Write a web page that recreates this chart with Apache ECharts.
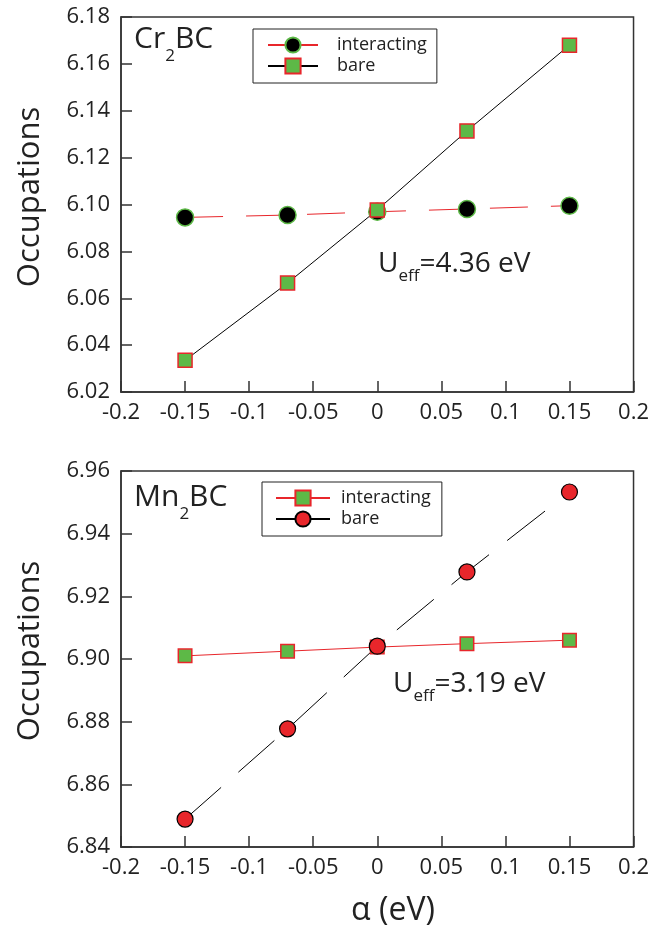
<!DOCTYPE html>
<html>
<head>
<meta charset="utf-8">
<script src="https://cdn.jsdelivr.net/npm/echarts@6/dist/echarts.min.js"></script>
<style>
  html, body { margin: 0; padding: 0; background: #fff; }
  #chart { width: 652px; height: 933px; }
</style>
</head>
<body>
<div id="chart"></div>
<script>
// alpha values (eV)
const alphaValues = [-0.15, -0.07, 0, 0.07, 0.15];
// Cr2BC occupations
const crInteracting = [6.0945, 6.0955, 6.0969, 6.0981, 6.0995];
const crBare = [6.0335, 6.0665, 6.0977, 6.1314, 6.168];
// Mn2BC occupations
const mnInteracting = [6.901, 6.9025, 6.9038, 6.9049, 6.906];
const mnBare = [6.8489, 6.8777, 6.9041, 6.9278, 6.9533];
// axis ranges
const xRange = [-0.2, 0.2, 0.05];
const crRange = [6.02, 6.18, 0.02];
const mnRange = [6.84, 6.96, 0.02];

const RED = "#e8262b";
const GREEN = "#5db947";
const FONT = "Open Sans";
const TXT = "#222";

const chart = echarts.init(document.getElementById("chart"));

const pairs = (ys) => alphaValues.map((x, i) => [x, ys[i]]);

// measure text so subscripts can be placed next to the main text
const measureCtx = document.createElement("canvas").getContext("2d");
function textWidth(str, size) {
    measureCtx.font = size + 'px "' + FONT + '"';
    return measureCtx.measureText(str).width;
}
// text with a subscript: main + sub + rest, y is the centre of the main text
function subText(x, y, main, sub, rest, size, subSize, drop) {
    const w1 = textWidth(main, size);
    const w2 = textWidth(sub, subSize);
    const base = { fontFamily: FONT, fill: TXT, align: "left", verticalAlign: "middle" };
    return [
        { type: "text", x: x, y: y, style: Object.assign({ text: main, fontSize: size }, base) },
        { type: "text", x: x + w1, y: y + drop, style: Object.assign({ text: sub, fontSize: subSize }, base) },
        { type: "text", x: x + w1 + w2, y: y, style: Object.assign({ text: rest, fontSize: size }, base) },
    ];
}

function xAxisFor(gridIndex) {
    return {
        type: "value", gridIndex,
        min: xRange[0], max: xRange[1], interval: xRange[2],
        axisLine: { show: true, onZero: false, lineStyle: { color: "#333", width: 1.5 } },
        axisTick: { show: true, inside: true, length: 11, lineStyle: { color: "#333", width: 1.5 } },
        axisLabel: { show: true, margin: 10, color: TXT, fontFamily: FONT, fontSize: 22, showMinLabel: true, showMaxLabel: true },
        splitLine: { show: false },
    };
}
function yAxisFor(gridIndex, range) {
    return {
        type: "value", gridIndex,
        min: range[0], max: range[1], interval: range[2],
        axisLine: { show: true, onZero: false, lineStyle: { color: "#333", width: 1.5 } },
        axisTick: { show: true, inside: true, length: 11, lineStyle: { color: "#333", width: 1.5 } },
        axisLabel: { show: true, margin: 11, color: TXT, fontFamily: FONT, fontSize: 22, formatter: (v) => v.toFixed(2) },
        splitLine: { show: false },
    };
}

const legendText = { color: TXT, fontFamily: FONT, fontSize: 18, lineHeight: 18 };

const option = {
    animation: false,
    backgroundColor: "#fff",
    grid: [
        { left: 121, right: 15, top: 17, height: 375, show: true, borderColor: "#333", borderWidth: 1.5 },
        { left: 121, right: 15, top: 471, height: 376, show: true, borderColor: "#333", borderWidth: 1.5 },
    ],
    xAxis: [xAxisFor(0), xAxisFor(1)],
    yAxis: [yAxisFor(0, crRange), yAxisFor(1, mnRange)],
    legend: [
        {
            left: 253, top: 29, orient: "vertical",
            padding: [7, 10, 8, 14], itemGap: 3, itemWidth: 50, itemHeight: 19,
            borderColor: "#222", borderWidth: 1,
            selectedMode: false,
            formatter: (name) => name.split("@")[0],
            textStyle: Object.assign({ padding: [0, 0, 0, 14] }, legendText),
            data: [
                { name: "interacting@cr", lineStyle: { type: "solid" } },
                { name: "bare@cr" },
            ],
        },
        {
            left: 262, top: 482, orient: "vertical",
            padding: [7, 11, 8, 13], itemGap: 3, itemWidth: 54, itemHeight: 19,
            borderColor: "#222", borderWidth: 1,
            selectedMode: false,
            formatter: (name) => name.split("@")[0],
            textStyle: Object.assign({ padding: [0, 0, 0, 6] }, legendText),
            data: [
                { name: "interacting@mn" },
                { name: "bare@mn", lineStyle: { type: "solid" } },
            ],
        },
    ],
    series: [
        {
            name: "interacting@cr", type: "line", xAxisIndex: 0, yAxisIndex: 0,
            data: pairs(crInteracting),
            lineStyle: { color: RED, width: 1, type: [38, 23] },
            symbol: "circle", symbolSize: 17,
            itemStyle: { color: "#000", borderColor: GREEN, borderWidth: 1.5 },
        },
        {
            name: "bare@cr", type: "line", xAxisIndex: 0, yAxisIndex: 0,
            data: pairs(crBare),
            lineStyle: { color: "#000", width: 1 },
            symbol: "rect", symbolSize: 14,
            itemStyle: { color: GREEN, borderColor: RED, borderWidth: 1.5 },
        },
        {
            name: "interacting@mn", type: "line", xAxisIndex: 1, yAxisIndex: 1,
            data: pairs(mnInteracting),
            lineStyle: { color: RED, width: 1 },
            symbol: "rect", symbolSize: 13.5,
            itemStyle: { color: GREEN, borderColor: RED, borderWidth: 1.5 },
        },
        {
            name: "bare@mn", type: "line", xAxisIndex: 1, yAxisIndex: 1,
            data: pairs(mnBare),
            lineStyle: { color: "#000", width: 1, type: [48, 23] },
            symbol: "circle", symbolSize: 16,
            itemStyle: { color: RED, borderColor: "#000", borderWidth: 1.2 },
        },
    ],
    graphic: [].concat(
        subText(134, 39, "Cr", "2", "BC", 30, 17, 17),
        subText(134, 497, "Mn", "2", "BC", 30, 17, 17),
        subText(378, 264, "U", "eff", "=4.36 eV", 28, 17, 12),
        subText(393, 684, "U", "eff", "=3.19 eV", 28, 17, 12),
        [
            {
                type: "text", x: 30, y: 197, rotation: Math.PI / 2,
                style: { text: "Occupations", fontFamily: FONT, fontSize: 31, fill: TXT, align: "center", verticalAlign: "middle" },
            },
            {
                type: "text", x: 30, y: 651, rotation: Math.PI / 2,
                style: { text: "Occupations", fontFamily: FONT, fontSize: 31, fill: TXT, align: "center", verticalAlign: "middle" },
            },
            {
                type: "text", x: 393, y: 911,
                style: { text: "α (eV)", fontFamily: FONT, fontSize: 32, fill: TXT, align: "center", verticalAlign: "middle" },
            },
        ]
    ),
};

chart.setOption(option);
</script>
</body>
</html>
